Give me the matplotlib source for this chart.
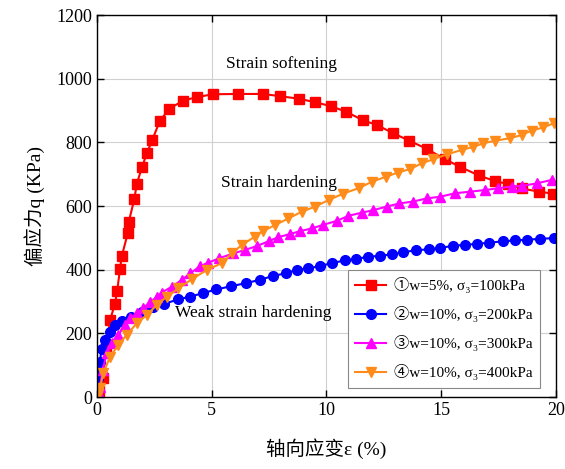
import matplotlib
matplotlib.use("Agg")
import matplotlib.pyplot as plt

plt.rcParams['font.family'] = ['Liberation Serif', 'Noto Sans CJK SC', 'DejaVu Sans']

# curve 1: w=5%, sigma3=100kPa
red_x = [0, 0.1, 0.25, 0.4, 0.57, 0.78, 0.88, 1.0, 1.08, 1.34, 1.38, 1.63, 1.73, 1.96, 2.18, 2.4,
         2.73, 3.15, 3.76, 4.34, 5.05, 6.14, 7.24, 7.97, 8.81, 9.5, 10.18, 10.86, 11.6, 12.18, 12.9,
         13.61, 14.39, 15.16, 15.82, 16.64, 17.35, 17.93, 18.5, 19.27, 19.86]
red_y = [0, 20, 60, 150, 242, 292, 334, 401, 443, 514, 549, 623, 669, 722, 767, 806,
         866, 906, 931, 942, 951, 952, 952, 945, 937, 926, 914, 896, 869, 855, 829,
         805, 779, 747, 723, 696, 678, 669, 655, 645, 639]

# curve 2: w=10%, sigma3=200kPa
blue_x = [0, 0.05, 0.12, 0.2, 0.35, 0.55, 0.8, 1.1, 1.5, 1.95, 2.45, 2.9, 3.55, 4.05, 4.6, 5.2,
          5.85, 6.5, 7.1, 7.65, 8.25, 8.7, 9.2, 9.7, 10.25, 10.8, 11.3, 11.8, 12.35, 12.85, 13.35,
          13.9, 14.45, 14.95, 15.5, 16.05, 16.55, 17.1, 17.7, 18.2, 18.75, 19.3, 19.9]
blue_y = [0, 60, 110, 150, 180, 205, 225, 238, 250, 268, 284, 292, 307, 315, 326, 338,
          348, 358, 368, 380, 389, 399, 404, 411, 421, 429, 434, 440, 444, 448, 455,
          461, 464, 468, 475, 478, 481, 485, 489, 492, 494, 497, 499]

# curve 3: w=10%, sigma3=300kPa
mag_x = [0, 0.05, 0.13, 0.25, 0.42, 0.64, 0.93, 1.22, 1.44, 1.73, 2.02, 2.31, 2.6, 2.82, 3.25,
         3.7, 4.05, 4.49, 4.85, 5.33, 5.94, 6.45, 6.96, 7.5, 7.9, 8.41, 8.85, 9.38, 9.86, 10.44,
         10.95, 11.53, 12.04, 12.62, 13.17, 13.78, 14.37, 14.95, 15.6, 16.25, 16.9, 17.49, 18.07,
         18.5, 19.16, 19.81]
mag_y = [0, 15, 32, 85, 137, 169, 195, 226, 247, 263, 279, 299, 313, 328, 346,
         368, 388, 411, 422, 436, 451, 462, 474, 490, 502, 512, 521, 530, 541, 553,
         569, 579, 587, 598, 608, 614, 624, 629, 640, 645, 650, 656, 661,
         663, 671, 682]

# curve 4: w=10%, sigma3=400kPa
ora_x = [0, 0.05, 0.13, 0.27, 0.57, 0.93, 1.29, 1.73, 2.17, 2.6, 3.04, 3.54, 4.13, 4.78, 5.43,
         5.87, 6.3, 6.88, 7.25, 7.76, 8.34, 8.92, 9.5, 10.1, 10.73, 11.4, 11.97, 12.6, 13.1,
         13.64, 14.15, 14.65, 15.24, 15.89, 16.4, 16.83, 17.34, 18.0, 18.5, 18.94, 19.45, 19.91]
ora_y = [0, 10, 27, 74, 127, 163, 195, 231, 258, 289, 315, 341, 370, 399, 420,
         451, 477, 504, 522, 540, 561, 582, 598, 619, 639, 656, 676, 692, 705,
         716, 734, 747, 762, 776, 786, 797, 805, 813, 823, 837, 847, 860]

labels = ['①w=5%, σ₃=100kPa', '②w=10%, σ₃=200kPa',
          '③w=10%, σ₃=300kPa', '④w=10%, σ₃=400kPa']

fig = plt.figure(figsize=(5.65, 4.69), dpi=100)
ax = fig.add_axes([0.1717, 0.1535, 0.8123, 0.8145])

ax.plot(red_x, red_y, '-s', color='#ff0000', lw=1.5, ms=6.5, label=labels[0])
ax.plot(blue_x, blue_y, '-o', color='#0000ff', lw=1.5, ms=7, label=labels[1])
ax.plot(mag_x, mag_y, '-^', color='#ff00ff', lw=1.5, ms=7, label=labels[2])
ax.plot(ora_x, ora_y, '-v', color='#ff8c1a', lw=1.5, ms=7, label=labels[3])

ax.set_xlim(0, 20)
ax.set_ylim(0, 1200)
ax.set_xticks([0, 5, 10, 15, 20])
ax.set_yticks([0, 200, 400, 600, 800, 1000, 1200])
ax.grid(True, color='#d0d0d0', lw=0.8)
ax.tick_params(direction='in', top=True, right=True, labelsize=13, length=5, width=1)
for s in ax.spines.values():
    s.set_linewidth(1.0)

ax.text(8.06, 1046, 'Strain softening', ha='center', va='center', fontsize=12.5)
ax.text(7.93, 672, 'Strain hardening', ha='center', va='center', fontsize=12.5)
ax.text(6.8, 264, 'Weak strain hardening', ha='center', va='center', fontsize=12.5)

ax.set_xlabel('轴向应变ε (%)', fontsize=14, labelpad=14)
ax.set_ylabel('偏应力q (KPa)', fontsize=14, labelpad=8)

leg = ax.legend(loc='lower right', fontsize=11, fancybox=False, framealpha=1,
                edgecolor='#888888', handlelength=2.0, handletextpad=0.5,
                borderpad=0.5, labelspacing=0.85, borderaxespad=0,
                bbox_to_anchor=(0.965, 0.024))
leg.get_frame().set_linewidth(0.8)

fig.savefig('out.png', dpi=100)
